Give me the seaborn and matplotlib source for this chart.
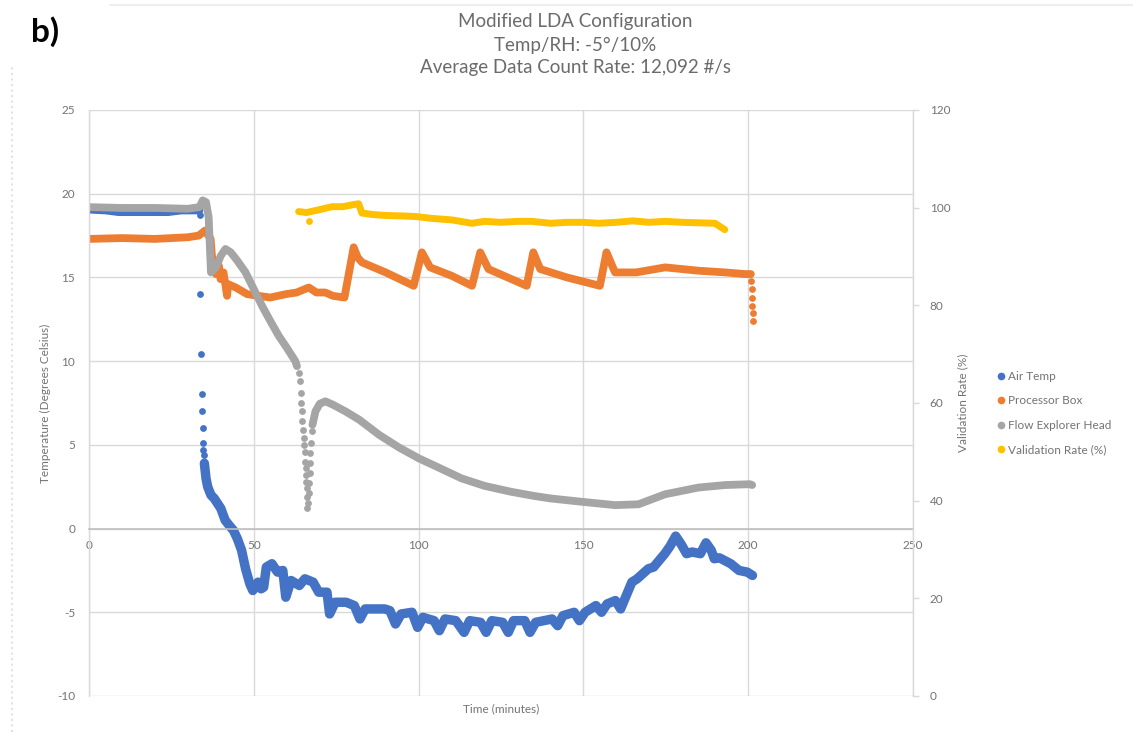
import matplotlib
matplotlib.use("Agg")
import matplotlib.pyplot as plt
import seaborn as sns
from matplotlib.lines import Line2D

# ---------------- data ----------------
series_names = ["Air Temp", "Processor Box", "Flow Explorer Head", "Validation Rate (%)"]
x_ticks = [0, 50, 100, 150, 200, 250]
left_ticks = [-10, -5, 0, 5, 10, 15, 20, 25]
right_ticks = [0, 20, 40, 60, 80, 100, 120]

# Air Temp: steady part before the drop
air_pre_t = [0, 5, 9, 15, 20, 24, 28, 33.5]
air_pre_v = [19.05, 19.0, 18.9, 18.9, 18.9, 18.9, 19.0, 19.0]
# Air Temp: isolated points during the fast drop
air_drop_t = [33.8, 33.8, 34.1, 34.3, 34.3, 34.6, 34.6, 34.7, 34.9]
air_drop_v = [18.7, 14.0, 10.4, 8.05, 7.0, 6.0, 5.1, 4.7, 4.4]
# Air Temp: dense part after the drop
air_t = [35.0, 35.5, 36.0, 37.0, 38.0, 39.0, 40.0, 41.3, 42.5, 43.8, 45.0, 46.3, 47.5,
         48.8, 49.7, 51.3, 52.2, 53.0, 53.8, 55.5, 57.2, 58.8, 59.7, 61.3, 63.8, 65.5,
         68.0, 69.7, 72.2, 73.0, 74.7, 78.0, 80.5, 82.2, 83.8, 89.7, 91.3, 93.0, 94.7,
         98.0, 99.7, 101.3, 104.7, 106.3, 108.0, 111.3, 113.8, 115.5, 118.8, 120.5,
         122.2, 125.5, 127.2, 128.8, 132.2, 133.8, 135.5, 140.5, 142.2, 143.8, 147.2,
         148.8, 150.5, 153.8, 155.5, 157.2, 159.7, 161.3, 164.7, 166.3, 169.7, 171.3,
         174.7, 176.3, 178.0, 179.7, 181.3, 183.0, 185.5, 187.2, 188.8, 189.7, 191.3,
         194.7, 197.2, 199.7, 201.3]
air_v = [3.9, 3.0, 2.5, 2.0, 1.8, 1.5, 1.2, 0.5, 0.2, -0.1, -0.6, -1.3, -2.4,
         -3.3, -3.7, -3.2, -3.6, -3.5, -2.3, -2.1, -2.6, -2.5, -4.1, -3.1, -3.4, -3.0,
         -3.2, -3.8, -3.8, -5.1, -4.4, -4.4, -4.6, -5.4, -4.8, -4.8, -4.9, -5.7, -5.1,
         -5.0, -5.9, -5.3, -5.5, -6.1, -5.4, -5.5, -6.2, -5.5, -5.6, -6.2,
         -5.5, -5.6, -6.2, -5.5, -5.5, -6.2, -5.6, -5.4, -5.8, -5.2, -5.0,
         -5.5, -5.0, -4.6, -5.0, -4.5, -4.3, -4.8, -3.2, -3.0, -2.4, -2.3,
         -1.5, -1.05, -0.45, -0.95, -1.5, -1.4, -1.5, -0.85, -1.3, -1.8, -1.75,
         -2.1, -2.5, -2.6, -2.8]

# Processor Box
proc_t = [0, 10, 20, 30, 33.3, 35.2, 36.9, 37.3, 38.5, 39.4, 39.9, 40.8, 41.9, 42.2,
          44.5, 48.0, 51.5, 55.0, 59.7, 63.0, 66.7, 69.0, 71.7, 74.0, 77.5, 80.3,
          81.5, 82.8, 90.0, 98.5, 101.0, 103.5, 110.0, 116.2, 118.7, 121.2, 127.0,
          132.8, 134.8, 136.9, 145.0, 155.0, 157.0, 159.6, 166.0, 174.8, 185.0,
          193.0, 199.0, 200.8]
proc_v = [17.3, 17.35, 17.3, 17.4, 17.5, 17.8, 17.3, 16.3, 15.2, 15.7, 14.9, 15.3, 13.9, 14.6,
          14.4, 14.0, 13.9, 13.8, 14.0, 14.1, 14.4, 14.1, 14.1, 13.9, 13.8, 16.8,
          16.2, 15.9, 15.3, 14.5, 16.5, 15.6, 15.1, 14.5, 16.5, 15.5, 15.0,
          14.5, 16.5, 15.5, 15.0, 14.5, 16.5, 15.3, 15.3, 15.6, 15.4,
          15.3, 15.2, 15.2]
proc_drop_t = [201.0, 201.1, 201.2, 201.3, 201.4, 201.5]
proc_drop_v = [14.8, 14.3, 13.8, 13.3, 12.9, 12.4]

# Flow Explorer Head
flow_a_t = [0, 10, 20, 30, 33.5, 34.5, 35.5, 36.3, 37.0, 38.5, 40.0, 41.4, 43.0, 45.0,
            47.5, 50.0, 52.5, 55.0, 57.6, 60.0, 62.6, 63.1]
flow_a_v = [19.2, 19.15, 19.15, 19.1, 19.2, 19.6, 19.5, 18.6, 15.3, 15.6, 16.3, 16.7, 16.5, 16.0,
            15.3, 14.3, 13.3, 12.4, 11.5, 10.8, 10.0, 9.7]
flow_drop_t = [63.7, 63.9, 64.2, 64.4, 64.6, 64.7, 64.9, 65.1, 65.2, 65.4, 65.5, 65.7,
               65.8, 65.9, 66.0, 66.1, 66.2,
               66.5, 66.6, 66.8, 66.9, 67.1, 67.2, 67.4, 67.6]
flow_drop_v = [9.3, 8.8, 8.1, 7.5, 7.0, 6.4, 5.9, 5.4, 5.0, 4.6, 4.0, 3.6,
               3.2, 2.8, 2.4, 1.9, 1.2,
               1.5, 2.1, 2.7, 3.3, 3.9, 4.5, 5.1, 5.8]
flow_b_t = [67.8, 68.7, 70.0, 71.7, 74.0, 77.8, 82.0, 88.0, 94.0, 100.0, 106.0, 113.0,
            120.0, 128.0, 135.0, 140.0, 149.5, 159.6, 166.7, 174.8, 184.9, 193.0,
            200.5, 201.2]
flow_b_v = [6.2, 7.0, 7.45, 7.6, 7.4, 7.0, 6.5, 5.6, 4.85, 4.2, 3.65, 3.0,
            2.55, 2.2, 1.95, 1.8, 1.6, 1.4, 1.45, 2.05, 2.45, 2.6,
            2.65, 2.6]

# Validation Rate (%), secondary axis
val_t = [63.6, 66.0, 70.0, 73.7, 77.0, 80.0, 81.8, 82.8, 86.0, 90.0, 95.0, 99.0, 104.0,
         110.0, 116.2, 120.0, 125.0, 130.0, 134.3, 140.0, 145.0, 150.0, 154.5, 160.0,
         165.0, 170.0, 174.8, 180.0, 185.0, 189.9, 192.9]
val_v = [99.2, 99.0, 99.6, 100.2, 100.2, 100.6, 100.8, 98.9, 98.6, 98.4, 98.3, 98.2, 97.8,
         97.5, 96.8, 97.2, 97.0, 97.2, 97.2, 96.8, 97.0, 97.0, 96.8, 97.0,
         97.3, 97.0, 97.2, 97.0, 96.9, 96.8, 95.5]
val_dot_t = [66.7]
val_dot_v = [97.2]

# ---------------- style ----------------
BLUE, ORANGE, GRAY, GOLD = "#4472C4", "#ED7D31", "#A5A5A5", "#FFC000"
TXT = "#737373"
TITLE = "#6b6b6b"
GRID = "#D9D9D9"

sns.set_theme(style="white")
plt.rcParams["font.family"] = ["Lato", "DejaVu Sans"]

W, H = 1133, 732
fig = plt.figure(figsize=(W / 100, H / 100), dpi=100)
L, R, T, B = 89, 913, 110, 696
ax = fig.add_axes([L / W, 1 - B / H, (R - L) / W, (B - T) / H])
ax2 = ax.twinx()

LW = 5.6
line_kw = dict(sort=False, estimator=None, linewidth=LW,
               solid_capstyle="round", solid_joinstyle="round", legend=False)
dot_kw = dict(s=24, linewidth=0, legend=False)
blue_kw = dict(line_kw)
blue_kw["linewidth"] = 6.8

# Air Temp
sns.lineplot(x=air_pre_t, y=air_pre_v, ax=ax, color=BLUE, **line_kw)
sns.scatterplot(x=air_drop_t, y=air_drop_v, ax=ax, color=BLUE, **dot_kw)
sns.lineplot(x=air_t, y=air_v, ax=ax, color=BLUE, **blue_kw)
# Processor Box
sns.lineplot(x=proc_t, y=proc_v, ax=ax, color=ORANGE, **line_kw)
sns.scatterplot(x=proc_drop_t, y=proc_drop_v, ax=ax, color=ORANGE, **dot_kw)
# Flow Explorer Head
sns.lineplot(x=flow_a_t, y=flow_a_v, ax=ax, color=GRAY, **line_kw)
sns.scatterplot(x=flow_drop_t, y=flow_drop_v, ax=ax, color=GRAY, **dot_kw)
sns.lineplot(x=flow_b_t, y=flow_b_v, ax=ax, color=GRAY, **line_kw)
# Validation Rate
vkw = dict(line_kw)
vkw["linewidth"] = 5.0
sns.lineplot(x=val_t, y=val_v, ax=ax2, color=GOLD, **vkw)
sns.scatterplot(x=val_dot_t, y=val_dot_v, ax=ax2, color=GOLD, **dot_kw)

# axes
ax.set_xlim(0, 250)
ax.set_ylim(-10, 25)
ax2.set_ylim(0, 120)
ax.set_xticks(x_ticks)
ax.set_yticks(left_ticks)
ax2.set_yticks(right_ticks)
ax.set_xlabel("")
ax.set_ylabel("")
ax2.set_ylabel("")
ax.grid(True, color=GRID, linewidth=1.0)
ax2.grid(False)
ax.set_axisbelow(True)

for s in ["top", "right"]:
    ax.spines[s].set_visible(False)
ax.spines["left"].set_color(GRID)
ax.spines["left"].set_linewidth(1.0)
ax.spines["bottom"].set_position(("data", 0))
ax.spines["bottom"].set_color("#BFBFBF")
ax.spines["bottom"].set_linewidth(1.2)
for s in ["top", "left", "bottom"]:
    ax2.spines[s].set_visible(False)
ax2.spines["right"].set_color(GRID)
ax2.spines["right"].set_linewidth(1.0)

ax.tick_params(axis="x", length=0, pad=8, labelsize=8.5, labelcolor=TXT)
ax.tick_params(axis="y", length=0, pad=10, labelsize=8.5, labelcolor=TXT)
ax2.tick_params(axis="y", length=4, width=1, color=GRID, direction="out",
                pad=8, labelsize=8.5, labelcolor=TXT)
ax.set_xticklabels([str(v) for v in x_ticks])
ax.set_yticklabels([str(v) for v in left_ticks])
ax2.set_yticklabels([str(v) for v in right_ticks])

# titles and labels
fig.text(575 / W, 1 - 22 / H, "Modified LDA Configuration", ha="center", va="center",
         fontsize=13.5, color=TITLE)
fig.text(575 / W, 1 - 45 / H, "Temp/RH: -5°/10%", ha="center", va="center",
         fontsize=13.5, color=TITLE)
fig.text(575 / W, 1 - 68 / H, "Average Data Count Rate: 12,092 #/s", ha="center", va="center",
         fontsize=13.5, color=TITLE)
fig.text(31 / W, 1 - 32 / H, "b)", ha="left", va="center", fontsize=24,
         fontweight="bold", color="black")
fig.text(45 / W, 1 - 403 / H, "Temperature (Degrees Celsius)", rotation=90,
         ha="center", va="center", fontsize=8.5, color=TXT)
fig.text(963 / W, 1 - 403 / H, "Validation Rate (%)", rotation=90,
         ha="center", va="center", fontsize=8.5, color=TXT)
fig.text(501 / W, 1 - 709 / H, "Time (minutes)", ha="center", va="center",
         fontsize=8.5, color=TXT)

# legend
handles = [Line2D([], [], marker="o", linestyle="", markersize=4.5, color=c)
           for c in [BLUE, ORANGE, GRAY, GOLD]]
fig.legend(handles, series_names, loc="center left", bbox_to_anchor=(997 / W, 1 - 413 / H),
           frameon=False, fontsize=8.5, labelcolor=TXT, handlelength=0.6,
           handletextpad=0.3, labelspacing=1.15, borderpad=0, borderaxespad=0)

# faint page edges seen in the screenshot
fig.add_artist(Line2D([12 / W, 12 / W], [0, 1 - 65 / H], transform=fig.transFigure,
                      color="#E2E2E2", linestyle=":", linewidth=1.5))
fig.add_artist(Line2D([110 / W, 1], [1 - 5 / H, 1 - 5 / H], transform=fig.transFigure,
                      color="#EEEEEE", linewidth=1.5))

fig.savefig("out.png", dpi=100)
